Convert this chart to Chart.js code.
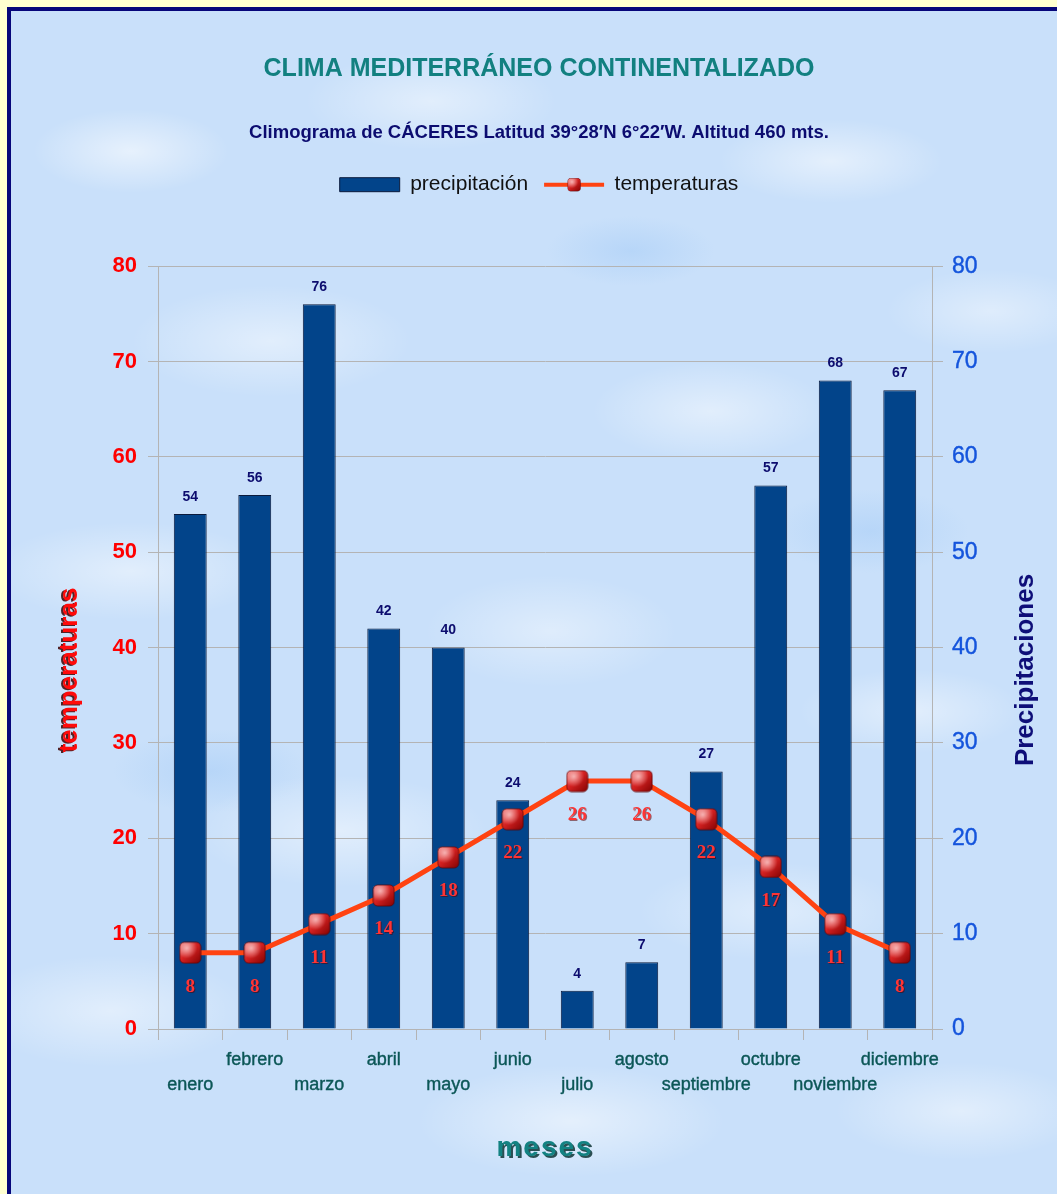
<!DOCTYPE html>
<html lang="es">
<head>
<meta charset="utf-8">
<title>Climograma de Cáceres</title>
<script src="https://cdn.jsdelivr.net/npm/chart.js@4.4.1/dist/chart.umd.min.js"></script>
<style>
    html, body {
        margin: 0;
        padding: 0;
        width: 1057px;
        height: 1194px;
        overflow: hidden;
        background: #ffffd0;
    }
    #frame {
        position: absolute;
        left: 7px;
        top: 7px;
        width: 1120px;
        height: 1260px;
        border: 4px solid #06067a;
        background-color: #c9e0fa;
        background-image:
            radial-gradient(ellipse 140px 60px at 120px 140px, rgba(255,255,255,0.55), rgba(255,255,255,0) 70%),
            radial-gradient(ellipse 180px 70px at 420px 90px, rgba(255,255,255,0.45), rgba(255,255,255,0) 70%),
            radial-gradient(ellipse 160px 60px at 820px 150px, rgba(255,255,255,0.5), rgba(255,255,255,0) 70%),
            radial-gradient(ellipse 200px 80px at 260px 330px, rgba(255,255,255,0.45), rgba(255,255,255,0) 70%),
            radial-gradient(ellipse 170px 70px at 700px 400px, rgba(255,255,255,0.45), rgba(255,255,255,0) 70%),
            radial-gradient(ellipse 150px 60px at 980px 300px, rgba(255,255,255,0.4), rgba(255,255,255,0) 70%),
            radial-gradient(ellipse 200px 70px at 120px 560px, rgba(255,255,255,0.45), rgba(255,255,255,0) 70%),
            radial-gradient(ellipse 180px 80px at 540px 620px, rgba(255,255,255,0.4), rgba(255,255,255,0) 70%),
            radial-gradient(ellipse 160px 60px at 900px 700px, rgba(255,255,255,0.45), rgba(255,255,255,0) 70%),
            radial-gradient(ellipse 210px 80px at 330px 820px, rgba(255,255,255,0.45), rgba(255,255,255,0) 70%),
            radial-gradient(ellipse 190px 70px at 760px 900px, rgba(255,255,255,0.4), rgba(255,255,255,0) 70%),
            radial-gradient(ellipse 200px 80px at 100px 1000px, rgba(255,255,255,0.45), rgba(255,255,255,0) 70%),
            radial-gradient(ellipse 220px 80px at 560px 1110px, rgba(255,255,255,0.5), rgba(255,255,255,0) 70%),
            radial-gradient(ellipse 180px 70px at 950px 1100px, rgba(255,255,255,0.45), rgba(255,255,255,0) 70%),
            radial-gradient(ellipse 120px 50px at 620px 240px, rgba(150,195,245,0.35), rgba(150,195,245,0) 70%),
            radial-gradient(ellipse 140px 60px at 200px 760px, rgba(150,195,245,0.35), rgba(150,195,245,0) 70%),
            radial-gradient(ellipse 140px 60px at 860px 520px, rgba(150,195,245,0.35), rgba(150,195,245,0) 70%);
    }
    #climograma {
        position: absolute;
        left: 0;
        top: 0;
    }
</style>
</head>
<body>
<div id="frame"></div>
<canvas id="climograma" width="1057" height="1194"></canvas>
<script>
    const meses = ['enero', 'febrero', 'marzo', 'abril', 'mayo', 'junio', 'julio',
        'agosto', 'septiembre', 'octubre', 'noviembre', 'diciembre'];
    const precipitacion = [54, 56, 76, 42, 40, 24, 4, 7, 27, 57, 68, 67];
    const temperaturas = [8, 8, 11, 14, 18, 22, 26, 26, 22, 17, 11, 8];
    const ejeMin = 0;
    const ejeMax = 80;
    const ejePaso = 10;

    // month names alternate between two rows, like the original sheet
    const etiquetas = meses.map((m, i) => i % 2 === 0 ? ['', m] : [m, '']);

    function makeMarker(size) {
        const c = document.createElement('canvas');
        c.width = size;
        c.height = size;
        const g = c.getContext('2d');
        const r = size * 0.2;
        g.beginPath();
        g.roundRect(1, 1, size - 2, size - 2, r);
        const grad = g.createLinearGradient(0, 0, size, size);
        grad.addColorStop(0, '#f47a7a');
        grad.addColorStop(0.45, '#d62222');
        grad.addColorStop(1, '#7c0000');
        g.fillStyle = grad;
        g.fill();
        const shine = g.createRadialGradient(size * 0.35, size * 0.3, 0, size * 0.35, size * 0.3, size * 0.45);
        shine.addColorStop(0, 'rgba(255,220,220,0.75)');
        shine.addColorStop(1, 'rgba(255,220,220,0)');
        g.fillStyle = shine;
        g.fill();
        g.lineWidth = 1;
        g.strokeStyle = 'rgba(90,0,0,0.7)';
        g.stroke();
        return c;
    }
    const marcador = makeMarker(23);

    const legendGap = {
        id: 'legendGap',
        beforeInit(chart) {
            const fitOrig = chart.legend.fit;
            chart.legend.fit = function () {
                fitOrig.call(this);
                this.height += 61;
            };
        }
    };

    const extras = {
        id: 'extras',
        afterDatasetsDraw(chart) {
            const ctx = chart.ctx;
            ctx.save();
            ctx.textAlign = 'center';
            ctx.textBaseline = 'middle';

            // precipitation values above the bars
            ctx.font = 'bold 14px "Liberation Sans", Arial, sans-serif';
            ctx.fillStyle = '#0c0c6e';
            chart.getDatasetMeta(0).data.forEach((bar, i) => {
                ctx.fillText(precipitacion[i], bar.x, bar.y - 17);
            });

            // temperature values under the markers
            ctx.font = 'bold 19px "Liberation Serif", "DejaVu Serif", serif';
            ctx.fillStyle = '#ff3434';
            ctx.shadowColor = 'rgba(90,0,0,0.55)';
            ctx.shadowOffsetX = 1;
            ctx.shadowOffsetY = 1;
            chart.getDatasetMeta(1).data.forEach((pt, i) => {
                ctx.fillText(temperaturas[i], pt.x, pt.y + 34);
            });
            ctx.restore();
        },
        afterDraw(chart) {
            const ctx = chart.ctx;
            const area = chart.chartArea;
            const midY = 670;
            ctx.save();
            ctx.textAlign = 'center';
            ctx.textBaseline = 'middle';

            // axis titles
            ctx.font = 'bold 26px "Liberation Sans", Arial, sans-serif';
            ctx.save();
            ctx.translate(70, midY);
            ctx.rotate(-Math.PI / 2);
            ctx.shadowColor = 'rgba(60,0,0,0.85)';
            ctx.shadowOffsetX = -2;
            ctx.shadowOffsetY = 1;
            ctx.fillStyle = '#ff0a0a';
            ctx.fillText('temperaturas', 0, 0);
            ctx.restore();

            ctx.save();
            ctx.translate(1026, midY);
            ctx.rotate(-Math.PI / 2);
            ctx.fillStyle = '#0e0e78';
            ctx.fillText('Precipitaciones', 0, 0);
            ctx.restore();

            ctx.save();
            ctx.font = 'bold 28px "Liberation Sans", Arial, sans-serif';
            ctx.letterSpacing = '2px';
            ctx.textBaseline = 'alphabetic';
            ctx.shadowColor = 'rgba(0,40,40,0.8)';
            ctx.shadowOffsetX = 2;
            ctx.shadowOffsetY = 2;
            ctx.fillStyle = '#138282';
            ctx.fillText('meses', (area.left + area.right) / 2, 1156);
            ctx.restore();

            // legend sample for the line series: line with a marker
            const items = chart.legend.legendItems;
            const k = items.findIndex(it => it.datasetIndex === 1);
            const hb = chart.legend.legendHitBoxes[k];
            if (hb) {
                const cy = hb.top + hb.height / 2;
                ctx.strokeStyle = '#ff4312';
                ctx.lineWidth = 4;
                ctx.beginPath();
                ctx.moveTo(hb.left, cy);
                ctx.lineTo(hb.left + 60, cy);
                ctx.stroke();
                ctx.drawImage(marcador, hb.left + 30 - 7, cy - 7, 14, 14);
            }
            ctx.restore();
        }
    };

    const ctx = document.getElementById('climograma').getContext('2d');

    new Chart(ctx, {
        type: 'bar',
        data: {
            labels: etiquetas,
            datasets: [{
                label: 'precipitación',
                data: precipitacion,
                yAxisID: 'yP',
                backgroundColor: '#02448a',
                borderColor: '#0a1a3c',
                borderWidth: 1,
                barPercentage: 0.51,
                categoryPercentage: 1,
                order: 1
            }, {
                type: 'line',
                label: 'temperaturas',
                data: temperaturas,
                yAxisID: 'yT',
                borderColor: '#ff4312',
                backgroundColor: '#d62222',
                borderWidth: 5,
                tension: 0,
                pointStyle: marcador,
                pointRadius: 12,
                order: 0
            }]
        },
        options: {
            responsive: false,
            animation: false,
            devicePixelRatio: 1,
            layout: {
                padding: { left: 21, right: 0, top: 0, bottom: 0 }
            },
            plugins: {
                title: {
                    display: true,
                    text: 'CLIMA MEDITERRÁNEO CONTINENTALIZADO',
                    color: '#128080',
                    font: { family: '"Liberation Sans", Arial, sans-serif', size: 25, weight: 'bold', lineHeight: 1.2 },
                    padding: { top: 54, bottom: 38 }
                },
                subtitle: {
                    display: true,
                    text: 'Climograma de CÁCERES Latitud 39°28′N 6°22′W. Altitud 460 mts.',
                    color: '#0c0c70',
                    font: { family: '"Liberation Sans", Arial, sans-serif', size: 18.5, weight: 'bold', lineHeight: 1.2 },
                    padding: { top: 0, bottom: 14 }
                },
                legend: {
                    display: true,
                    position: 'top',
                    labels: {
                        color: '#111',
                        font: { family: '"Liberation Sans", Arial, sans-serif', size: 21 },
                        boxWidth: 60,
                        boxHeight: 14,
                        padding: 16,
                        generateLabels(chart) {
                            const items = Chart.defaults.plugins.legend.labels.generateLabels(chart);
                            items.forEach(it => {
                                if (it.datasetIndex === 1) {
                                    it.fillStyle = 'rgba(0,0,0,0)';
                                    it.strokeStyle = 'rgba(0,0,0,0)';
                                    it.lineWidth = 0;
                                }
                            });
                            return items.sort((a, b) => a.datasetIndex - b.datasetIndex);
                        }
                    }
                },
                tooltip: { enabled: false }
            },
            scales: {
                x: {
                    offset: true,
                    grid: {
                        offset: true,
                        drawOnChartArea: false,
                        drawTicks: true,
                        tickLength: 11,
                        color: '#b4b4b4'
                    },
                    border: { color: '#b4b4b4' },
                    ticks: {
                        color: '#0b5656',
                        textStrokeColor: '#0b5656',
                        textStrokeWidth: 0.4,
                        font: { family: '"Liberation Sans", Arial, sans-serif', size: 18, lineHeight: 1.39 },
                        padding: 8,
                        autoSkip: false,
                        maxRotation: 0
                    },
                    afterFit(scale) { scale.height = 165; }
                },
                yT: {
                    position: 'left',
                    min: ejeMin,
                    max: ejeMax,
                    grid: {
                        color: '#b4b4b4',
                        tickLength: 10
                    },
                    border: { color: '#b4b4b4' },
                    ticks: {
                        stepSize: ejePaso,
                        color: '#ff0000',
                        font: { family: '"Liberation Sans", Arial, sans-serif', size: 22, weight: 'bold' },
                        padding: 11
                    },
                    afterFit(scale) { scale.width = 137; }
                },
                yP: {
                    position: 'right',
                    min: ejeMin,
                    max: ejeMax,
                    grid: {
                        drawOnChartArea: false,
                        color: '#b4b4b4',
                        tickLength: 11
                    },
                    border: { color: '#b4b4b4' },
                    ticks: {
                        stepSize: ejePaso,
                        color: '#1454dc',
                        textStrokeColor: '#1454dc',
                        textStrokeWidth: 0.4,
                        font: { family: '"Liberation Sans", Arial, sans-serif', size: 23 },
                        padding: 9
                    },
                    afterFit(scale) { scale.width = 125; }
                }
            }
        },
        plugins: [legendGap, extras]
    });
</script>
</body>
</html>
